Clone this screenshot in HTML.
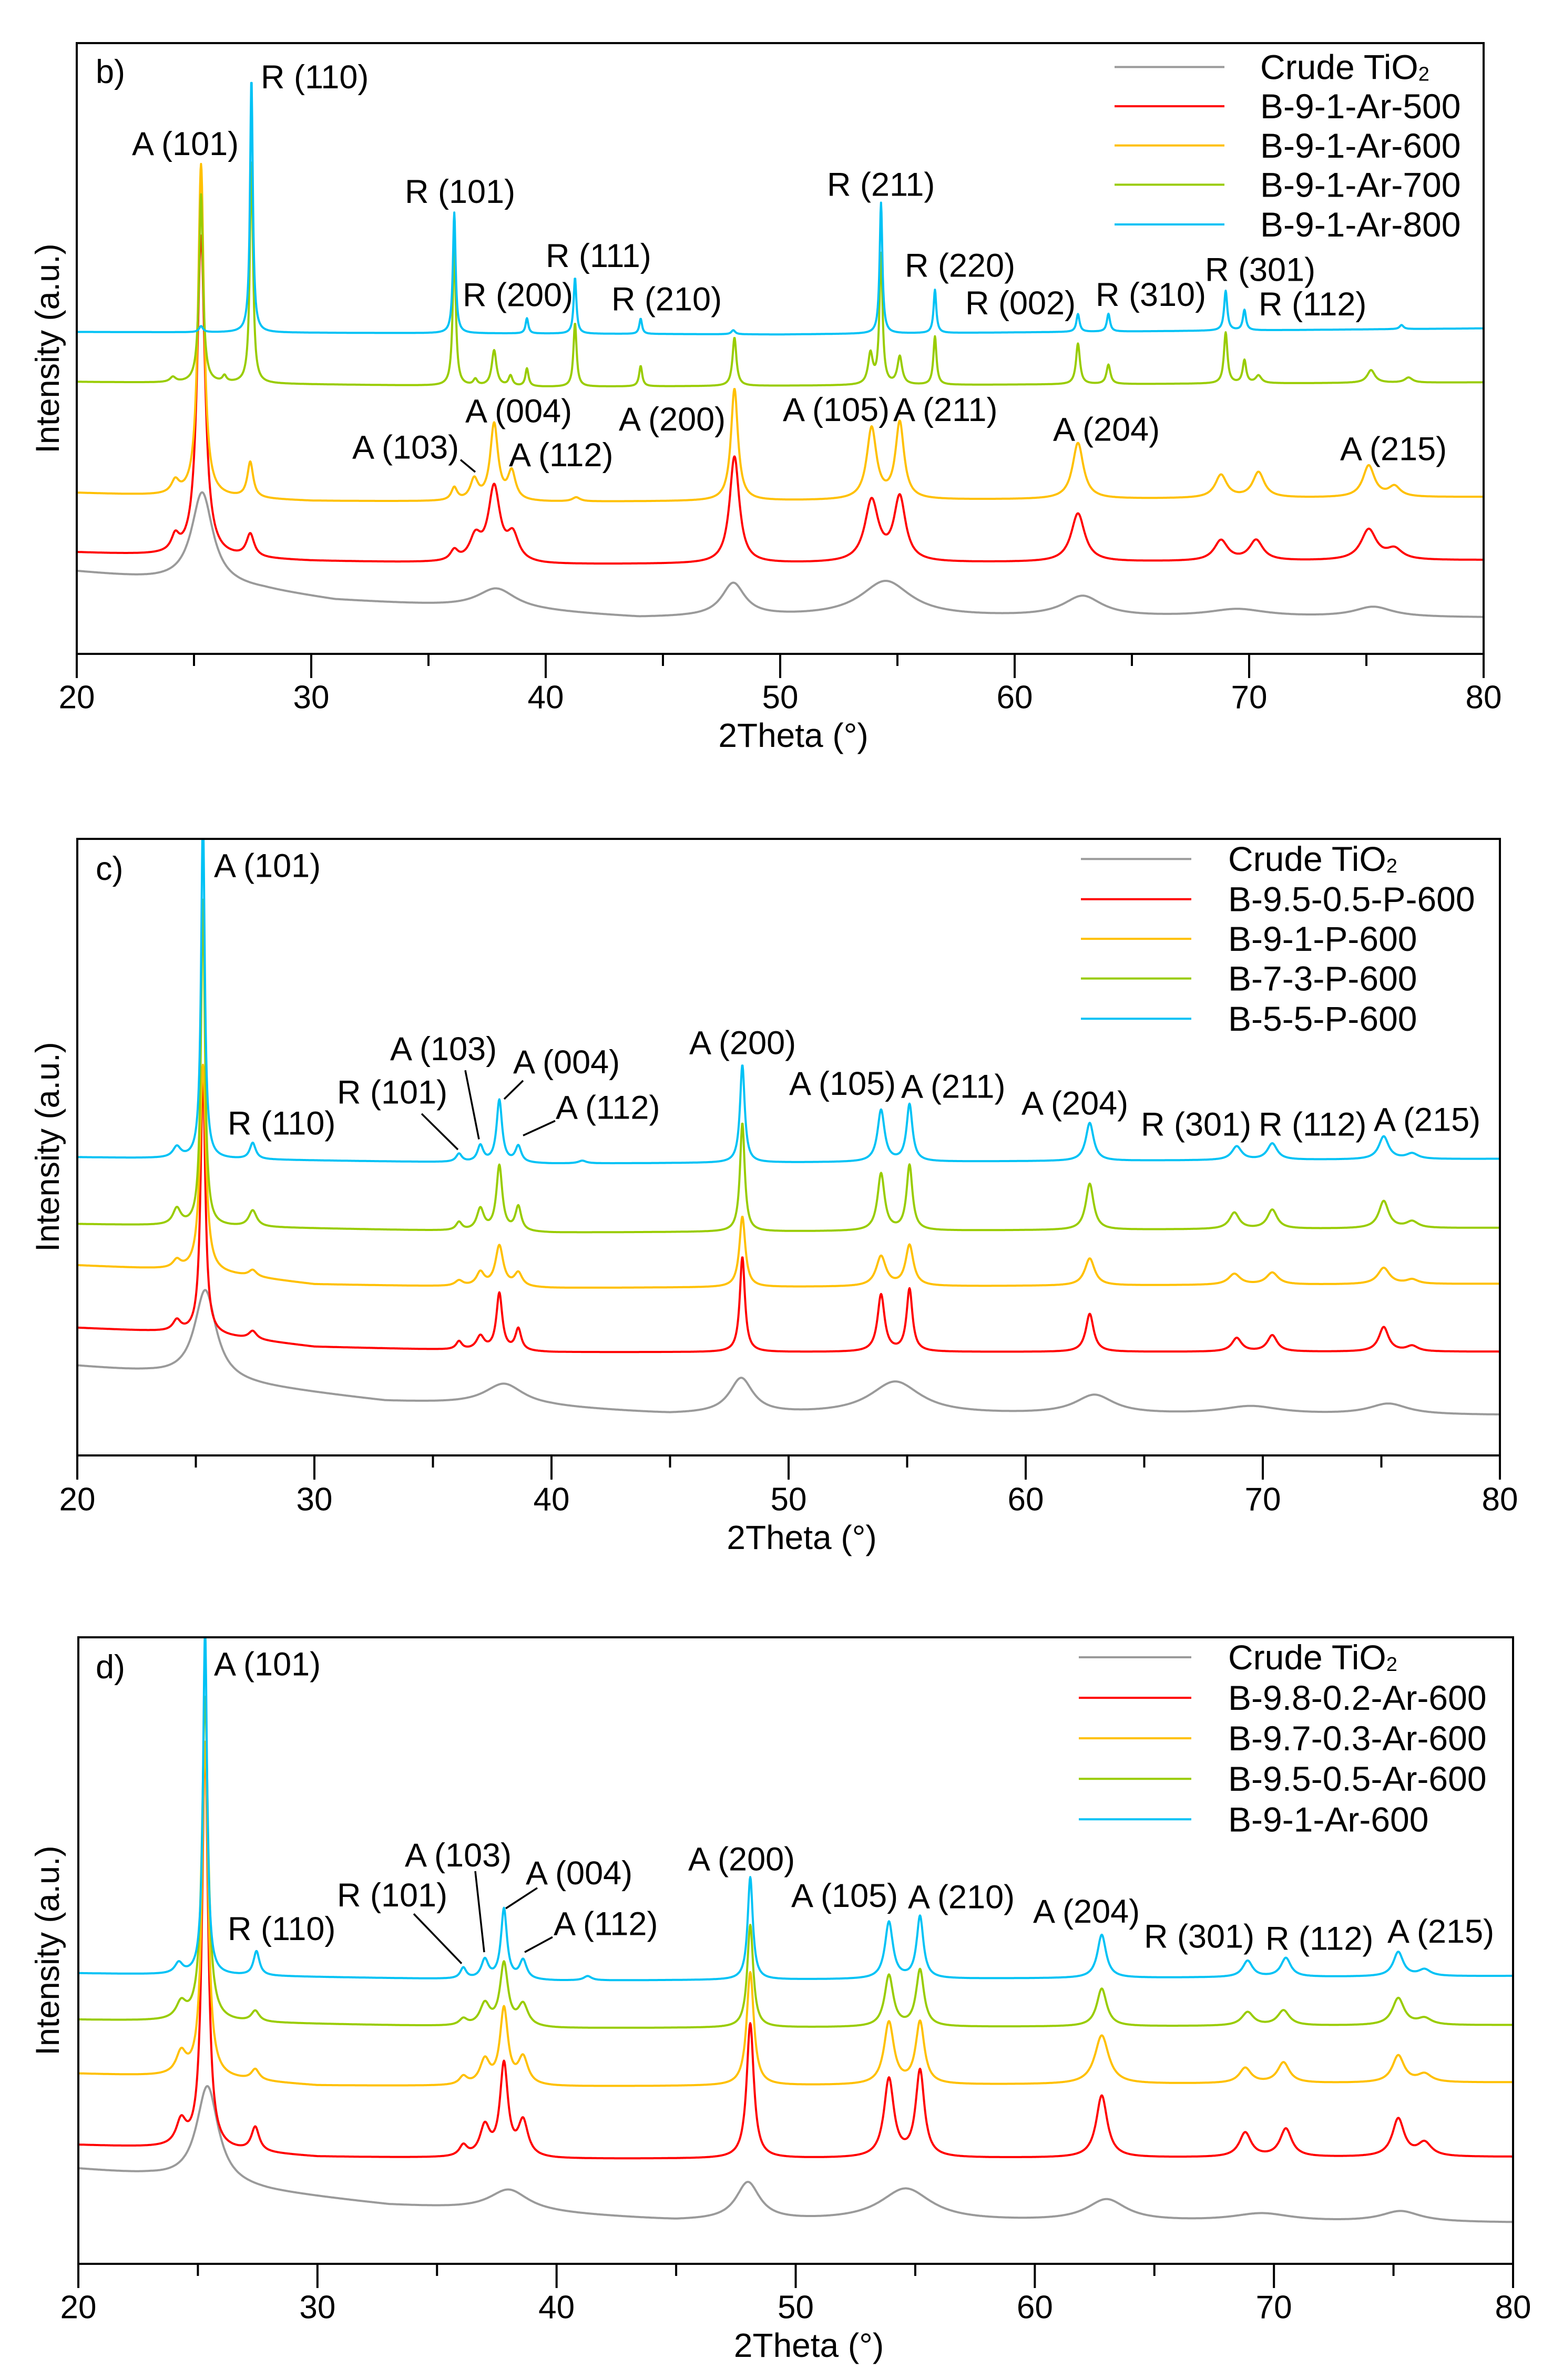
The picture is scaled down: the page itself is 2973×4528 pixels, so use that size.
<!DOCTYPE html>
<html><head><meta charset="utf-8"><style>
html,body{margin:0;padding:0;background:#fff}
svg{display:block}
text{font-family:"Liberation Sans",Arial,sans-serif;fill:#000}
</style></head>
<body>
<svg id="fig" xmlns="http://www.w3.org/2000/svg" width="2973" height="4528" viewBox="0 0 2973 4528">
<rect x="0" y="0" width="2973" height="4528" fill="#fff"/>
</svg>
<script>
// ---------- data ----------
const thetaTicks = [20,30,40,50,60,70,80];
const thetaMinor = [25,35,45,55,65,75];
const seriesColors = ['#9a9a9a','#ff0000','#ffc000','#99cc00','#00c2f5'];
const bNames = ['Crude TiO','B-9-1-Ar-500','B-9-1-Ar-600','B-9-1-Ar-700','B-9-1-Ar-800'];
const cNames = ['Crude TiO','B-9.5-0.5-P-600','B-9-1-P-600','B-7-3-P-600','B-5-5-P-600'];
const dNames = ['Crude TiO','B-9.8-0.2-Ar-600','B-9.7-0.3-Ar-600','B-9.5-0.5-Ar-600','B-9-1-Ar-600'];

// baselines: [2theta, intensity]
const bBaseGray = [[20,161],[23,147],[28,125],[31,105],[35,95],[40,82],[44,70],[50,72],[80,71]];
const bBaseRed = [[20,199],[25,190],[30,182],[40,175],[80,184]];
const bBaseYellow = [[20,316],[30,300],[40,298],[80,308]];
const bBaseGreen = [[20,534],[40,524],[80,533]];
const bBaseCyan = [[20,632],[50,627],[80,639]];
// peaks: [2theta, amplitude, half-width]
const bPeaksGray = [[25.35,180,0.55],[37.9,40,1.0],[48.0,65,0.6],[54.5,70,1.3],[62.9,40,1.0],[69.5,15,1.5],[75.3,20,1.0]];
const bPeaksRed = [[24.2,30,0.2],[25.3,630,0.2],[27.4,45,0.2],[36.1,20,0.2],[37.0,45,0.3],[37.8,145,0.3],[38.6,50,0.3],[48.05,210,0.25],[53.9,120,0.35],[55.1,125,0.3],[62.7,95,0.35],[68.8,40,0.35],[70.3,40,0.35],[75.1,60,0.4],[76.2,20,0.4]];
const bPeaksYellow = [[24.2,25,0.2],[25.3,653,0.15],[27.4,70,0.15],[36.1,25,0.15],[36.95,40,0.2],[37.8,150,0.2],[38.55,55,0.2],[41.3,8,0.2],[48.05,220,0.18],[53.9,140,0.25],[55.1,150,0.22],[62.7,110,0.28],[68.8,45,0.3],[70.4,50,0.3],[75.1,62,0.3],[76.2,20,0.3]];
const bPeaksGreen = [[24.1,10,0.15],[25.3,370,0.1],[26.3,12,0.1],[27.45,440,0.08],[36.1,270,0.08],[37.0,12,0.1],[37.8,70,0.12],[38.5,20,0.1],[39.2,35,0.08],[41.25,125,0.08],[44.05,40,0.08],[48.05,95,0.1],[53.85,60,0.12],[54.3,255,0.08],[55.1,55,0.12],[56.6,95,0.08],[62.7,80,0.1],[64.0,38,0.1],[69.0,100,0.09],[69.8,45,0.09],[70.4,15,0.15],[75.2,25,0.2],[76.8,10,0.2]];
const bPeaksCyan = [[25.3,12,0.1],[27.45,500,0.07],[36.1,237,0.07],[39.2,30,0.07],[41.25,110,0.07],[44.05,30,0.07],[48.0,8,0.1],[54.3,257,0.07],[56.6,85,0.07],[62.7,35,0.08],[64.0,35,0.08],[69.0,78,0.08],[69.8,40,0.08],[76.5,8,0.1]];

const cBaseGray = [[20,164],[23,152],[28,125],[33,99],[40,88],[45,75],[80,74]];
const cBaseRed = [[20,235],[25,225],[30,200],[40,190],[80,191]];
const cBaseYellow = [[20,350],[25,340],[30,315],[40,308],[80,316]];
const cBaseGreen = [[20,426],[40,410],[80,419]];
const cBaseCyan = [[20,549],[40,537],[80,546]];
const cPeaksGray = [[25.4,165,0.55],[38,40,1.0],[48.0,65,0.6],[54.5,60,1.3],[62.9,35,1.0],[69.5,15,1.5],[75.3,20,1.0]];
const cPeaksRed = [[24.2,20,0.2],[25.3,480,0.12],[27.4,15,0.2],[36.1,15,0.15],[37.0,25,0.2],[37.8,105,0.15],[38.6,40,0.15],[48.05,175,0.13],[53.9,105,0.18],[55.1,115,0.15],[62.7,70,0.2],[68.9,25,0.25],[70.4,30,0.25],[75.1,45,0.25],[76.3,10,0.3]];
const cPeaksYellow = [[24.2,15,0.2],[25.3,380,0.15],[27.4,12,0.2],[36.1,10,0.2],[37.0,25,0.2],[37.8,75,0.2],[38.6,25,0.2],[48.05,130,0.15],[53.9,55,0.25],[55.1,75,0.2],[62.7,50,0.25],[68.8,20,0.3],[70.4,22,0.3],[75.1,30,0.3],[76.3,8,0.3]];
const cPeaksGreen = [[24.2,30,0.2],[25.3,600,0.1],[27.4,30,0.2],[36.1,15,0.15],[37.0,40,0.18],[37.8,120,0.15],[38.6,45,0.15],[48.05,200,0.12],[53.9,105,0.18],[55.1,120,0.15],[62.7,85,0.2],[68.8,30,0.25],[70.4,35,0.25],[75.1,50,0.25],[76.3,12,0.3]];
const cPeaksCyan = [[24.2,20,0.2],[25.3,640,0.09],[27.4,30,0.15],[36.1,15,0.15],[37.0,30,0.15],[37.8,115,0.14],[38.6,30,0.15],[41.3,5,0.2],[48.05,180,0.12],[53.9,95,0.18],[55.1,105,0.15],[62.7,70,0.2],[68.9,25,0.25],[70.4,30,0.25],[75.1,42,0.25],[76.3,10,0.3]];

const dBaseGray = [[20,175],[23,163],[28,133],[33,108],[40,92],[45,79],[80,76]];
const dBaseRed = [[20,220],[25,212],[30,198],[40,194],[80,198]];
const dBaseYellow = [[20,352],[25,345],[30,330],[40,328],[80,336]];
const dBaseGreen = [[20,452],[40,436],[80,442]];
const dBaseCyan = [[20,538],[40,524],[80,533]];
const dPeaksGray = [[25.4,180,0.55],[38,40,1.0],[48.0,70,0.6],[54.6,60,1.3],[63.0,40,1.0],[69.5,15,1.5],[75.3,20,1.0]];
const dPeaksRed = [[24.3,45,0.25],[25.3,750,0.15],[27.4,45,0.2],[36.1,20,0.2],[37.0,55,0.25],[37.8,170,0.2],[38.6,65,0.25],[48.1,250,0.18],[53.9,145,0.25],[55.2,160,0.22],[62.8,115,0.28],[68.8,45,0.3],[70.5,52,0.3],[75.2,70,0.3],[76.3,25,0.35]];
const dPeaksYellow = [[24.3,40,0.25],[25.3,620,0.15],[27.4,20,0.2],[36.1,15,0.2],[37.0,45,0.25],[37.8,140,0.2],[38.6,50,0.25],[48.1,210,0.18],[53.9,115,0.25],[55.2,115,0.22],[62.8,90,0.35],[68.8,28,0.3],[70.4,38,0.3],[75.2,50,0.3],[76.3,15,0.35]];
const dPeaksGreen = [[24.3,30,0.25],[25.3,600,0.15],[27.4,20,0.2],[36.1,12,0.2],[37.0,40,0.25],[37.8,115,0.2],[38.6,40,0.25],[48.1,190,0.15],[53.9,95,0.22],[55.2,105,0.2],[62.8,70,0.25],[68.9,25,0.3],[70.4,28,0.3],[75.2,50,0.3],[76.3,12,0.35]];
const dPeaksCyan = [[24.2,20,0.2],[25.3,640,0.1],[27.45,45,0.15],[36.1,20,0.15],[37.0,35,0.18],[37.8,130,0.15],[38.6,35,0.18],[41.3,8,0.2],[48.1,190,0.13],[53.9,105,0.2],[55.2,115,0.17],[62.8,80,0.22],[68.9,30,0.25],[70.5,35,0.25],[75.2,45,0.25],[76.3,12,0.3]];

// annotation labels [text, x, y] (y in measurement frame, remapped below)
const bLabels = [['A (101)',251,284],['R (110)',496,153],['R (101)',770,378],['R (200)',880,581],['R (111)',1038,504],['R (210)',1163,589],['A (004)',885,809],['A (103)',670,880],['A (112)',968,895],['A (200)',1177,825],['A (105)',1489,806],['A (211)',1699,806],['R (211)',1573,364],['R (220)',1721,523],['R (002)',1836,597],['R (310)',2084,580],['R (301)',2292,531],['R (112)',2394,599],['A (204)',2003,845],['A (215)',2549,883]];
const cLabels = [['A (101)',407,1641],['R (110)',433,2115],['R (101)',641,2058],['A (103)',742,1978],['A (004)',976,2002],['A (112)',1057,2086],['A (200)',1311,1967],['A (105)',1501,2042],['A (211)',1714,2047],['A (204)',1943,2078],['R (301)',2170,2117],['R (112)',2394,2117],['A (215)',2613,2108]];
const dLabels = [['A (101)',407,3170],['R (110)',433,3660],['R (101)',641,3598],['A (103)',770,3524],['A (004)',1000,3557],['A (112)',1053,3651],['A (200)',1309,3531],['A (105)',1505,3599],['A (210)',1727,3601],['A (204)',1965,3628],['R (301)',2176,3674],['R (112)',2407,3678],['A (215)',2639,3665]];
const bLeaders = [[876,904,904,928]];
const cLeaders = [[802,2097,871,2163],[885,2017,911,2144],[995,2036,959,2070],[1056,2110,995,2137]];
const dLeaders = [[787,3632,878,3724],[904,3553,921,3703],[1022,3584,962,3622],[1051,3675,998,3703]];

// ---------- layout ----------
const panels = [
 {id:'b', tag:'b)', tagY:137, L:146, R:2822, T:82, B:1244, oT:86, oB:1285, tickY:1327, titleY:1399, yTitleY:663,
  names:bNames, bases:[bBaseGray,bBaseRed,bBaseYellow,bBaseGreen,bBaseCyan], peaks:[bPeaksGray,bPeaksRed,bPeaksYellow,bPeaksGreen,bPeaksCyan],
  labels:bLabels, leaders:bLeaders, legLine:[2120,2329], legText:2397, legY:[133,210,287,364,442]},
 {id:'c', tag:'c)', tagY:1653, L:147, R:2853, T:1596, B:2769, oT:1591, oB:2726, tickY:2853, titleY:2925, yTitleY:2182,
  names:cNames, bases:[cBaseGray,cBaseRed,cBaseYellow,cBaseGreen,cBaseCyan], peaks:[cPeaksGray,cPeaksRed,cPeaksYellow,cPeaksGreen,cPeaksCyan],
  labels:cLabels, leaders:cLeaders, legLine:[2056,2266], legText:2336, legY:[1628,1702,1775,1848,1922]},
 {id:'d', tag:'d)', tagY:3172, L:149, R:2878, T:3115, B:4307, oT:3120, oB:4280, tickY:4390, titleY:4462, yTitleY:3711,
  names:dNames, bases:[dBaseGray,dBaseRed,dBaseYellow,dBaseGreen,dBaseCyan], peaks:[dPeaksGray,dPeaksRed,dPeaksYellow,dPeaksGreen,dPeaksCyan],
  labels:dLabels, leaders:dLeaders, legLine:[2052,2266], legText:2336, legY:[3157,3232,3307,3382,3457]}
];
const NS='http://www.w3.org/2000/svg';
const svg=document.getElementById('fig');
function mk(tag,attrs,parent){const e=document.createElementNS(NS,tag);for(const k in attrs)e.setAttribute(k,attrs[k]);(parent||svg).appendChild(e);return e;}
function baseAt(base,t){
  if(t<=base[0][0])return base[0][1];
  for(let i=1;i<base.length;i++){if(t<=base[i][0]){const a=base[i-1],b=base[i];return a[1]+(b[1]-a[1])*(t-a[0])/(b[0]-a[0]);}}
  return base[base.length-1][1];
}
function intensity(base,peaks,t){
  let v=baseAt(base,t);
  for(const p of peaks){const u=(t-p[0])/p[2];v+=p[1]/(1+u*u);}
  return v;
}
panels.forEach(function(p){
  const k=(p.B-p.T)/(p.oB-p.oT);
  const xs=function(t){return p.L+(t-20)/60*(p.R-p.L);};
  const ys=function(v){return p.B-v*k;};
  const ym=function(y){return p.T+(y-p.oT)*k;};
  const g=mk('g',{});
  
  
  const cp=mk('clipPath',{id:'clip-'+p.id},g);
  mk('rect',{x:p.L,y:p.T,width:p.R-p.L,height:p.B-p.T},cp);
  const sg=mk('g',{'clip-path':'url(#clip-'+p.id+')'},g);
  for(let s=0;s<5;s++){
    let d='';
    for(let i=0;i<=3000;i++){const t=20+i*0.02;const v=intensity(p.bases[s],p.peaks[s],t);d+=(i?'L':'M')+xs(t).toFixed(1)+' '+ys(v).toFixed(1);}
    const path=mk('path',{d:d,fill:'none',stroke:seriesColors[s],'stroke-width':4,'stroke-linejoin':'round'},sg);
    
    
  }
  const fr=mk('rect',{x:p.L,y:p.T,width:p.R-p.L,height:p.B-p.T,fill:'none',stroke:'#000','stroke-width':4},g);
  
  
  thetaTicks.forEach(function(t){
    const ln=mk('line',{x1:xs(t),x2:xs(t),y1:p.B,y2:p.B+46,stroke:'#000','stroke-width':4},g);
    
    
    const tx=mk('text',{x:xs(t),y:p.tickY,'text-anchor':'middle','dominant-baseline':'central','font-size':62},g);
    
    
    tx.textContent=String(t);
  });
  thetaMinor.forEach(function(t){
    const ln=mk('line',{x1:xs(t),x2:xs(t),y1:p.B,y2:p.B+23,stroke:'#000','stroke-width':4},g);
    
    
  });
  const xt=mk('text',{x:(p.L+p.R)/2+25,y:p.titleY,'text-anchor':'middle','dominant-baseline':'central','font-size':64},g);
  
  
  xt.textContent='2Theta (°)';
  const yt=mk('text',{x:0,y:0,'text-anchor':'middle','dominant-baseline':'central','font-size':63,transform:'translate(91,'+p.yTitleY+') rotate(-90)'},g);
  
  
  yt.textContent='Intensity (a.u.)';
  const tg=mk('text',{x:182,y:p.tagY,'dominant-baseline':'central','font-size':63},g);
  
  
  tg.textContent=p.tag;
  p.labels.forEach(function(l){
    const tx=mk('text',{x:l[1],y:ym(l[2]),'dominant-baseline':'central','font-size':63},g);
    
    
    tx.textContent=l[0];
  });
  p.leaders.forEach(function(l){
    const ln=mk('line',{x1:l[0],y1:ym(l[1]),x2:l[2],y2:ym(l[3]),stroke:'#000','stroke-width':3.5},g);
    
    
  });
  for(let s=0;s<5;s++){
    const y=ym(p.legY[s]);
    const ln=mk('line',{x1:p.legLine[0],x2:p.legLine[1],y1:y,y2:y,stroke:seriesColors[s],'stroke-width':4},g);
    
    
    const tx=mk('text',{x:p.legText,y:y,'dominant-baseline':'central','font-size':66},g);
    
    
    tx.textContent=p.names[s];
    if(s===0){
      const sub=mk('tspan',{'font-size':38,dy:14},tx);
      sub.textContent='2';
    }
  }
});
</script>
</body></html>
